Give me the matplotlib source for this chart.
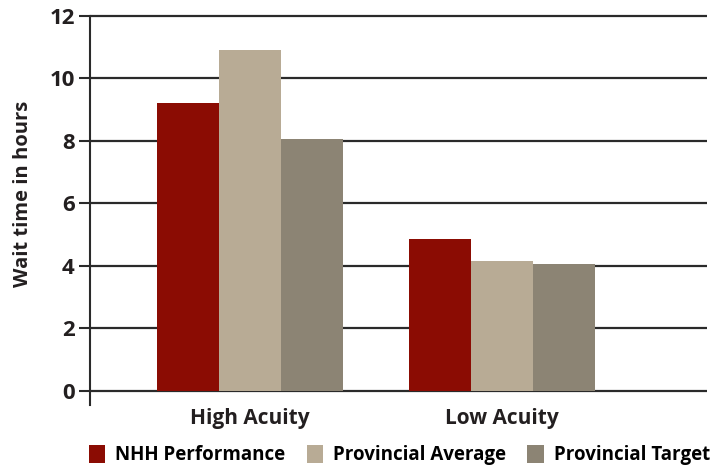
import numpy as np
import matplotlib.pyplot as plt
from matplotlib.patches import Patch

# data
categories = ['High Acuity', 'Low Acuity']
series_names = ['NHH Performance', 'Provincial Average', 'Provincial Target']
nhh_performance = [9.2, 4.85]
provincial_average = [10.9, 4.15]
provincial_target = [8.05, 4.05]
y_ticks = [0, 2, 4, 6, 8, 10, 12]

colors = ['#8b0c03', '#b8ab95', '#8c8474']
plt.rcParams['font.family'] = ['Open Sans', 'DejaVu Sans']

fig = plt.figure(figsize=(7.18, 4.68), dpi=100)
ax = fig.add_axes([0.1253, 0.1346, 0.8594, 0.8346])

x = np.arange(len(categories))
width = 0.247
all_series = [nhh_performance, provincial_average, provincial_target]
for i, vals in enumerate(all_series):
    ax.bar(x + (i - 1) * width, vals, width, color=colors[i], zorder=3)

ax.set_xlim(-0.635, 1.813)
ax.set_ylim(-0.45, 12.05)
ax.set_yticks(y_ticks)
ax.set_yticklabels([str(t) for t in y_ticks], fontsize=16, fontweight='bold', color='#231f20')
ax.set_xticks(x)
ax.set_xticklabels(categories, fontsize=15, fontweight='bold', color='#231f20')
ax.tick_params(axis='x', length=0, pad=2)
ax.tick_params(axis='y', length=8, width=1.5, color='#2a2a2a', pad=3)

for t in y_ticks:
    ax.axhline(t, color='#2a2a2a', lw=1.6, zorder=2)

for s in ['top', 'right', 'bottom']:
    ax.spines[s].set_visible(False)
ax.spines['left'].set_color('#2a2a2a')
ax.spines['left'].set_linewidth(1.5)
ax.spines['left'].set_bounds(-0.45, 12)

ax.set_ylabel('Wait time in hours', fontsize=14.5, fontweight='bold', color='#231f20')
ax.yaxis.set_label_coords(-0.093, 0.54)

handles = [Patch(facecolor=c) for c in colors]
fig.legend(handles, series_names, loc='lower center', bbox_to_anchor=(0.556, -0.03), ncol=3,
           frameon=False, handlelength=0.9, handleheight=1.1, handletextpad=0.5, columnspacing=1.15,
           prop={'size': 13.5, 'weight': 'bold'})

fig.savefig('out.png', dpi=100)
